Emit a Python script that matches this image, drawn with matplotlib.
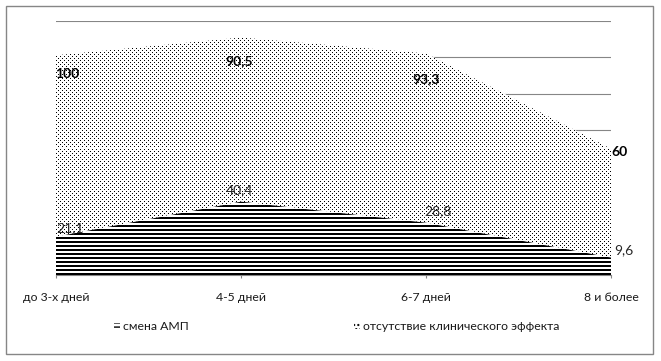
import matplotlib
matplotlib.use("Agg")
import matplotlib.pyplot as plt
from matplotlib.patches import Rectangle, Patch
import numpy as np

categories = ["до 3-х дней", "4-5 дней", "6-7 дней", "8 и более"]
smena_amp = [21.1, 40.4, 28.8, 9.6]
net_effekta = [100, 90.5, 93.3, 60]
series_names = ["смена АМП", "отсутствие клинического эффекта"]

plt.rcParams['font.family'] = ['Lato', 'DejaVu Sans']

W, H = 661, 361
AX_L, AX_B, AX_W, AX_H = 56, 86, 555, 254
fig = plt.figure(figsize=(W / 100, H / 100), dpi=100)
ax = fig.add_axes([AX_L / W, AX_B / H, AX_W / W, AX_H / H])

x = np.arange(len(categories))
s1 = np.array(smena_amp)
s2 = s1 + np.array(net_effekta)

grid_c = "#868686"
XMAX, YMAX = 3, 140

dots = ax.fill_between(x, s1, s2, facecolor="white", linewidth=0, zorder=2)
stripes = ax.fill_between(x, 0, s1, facecolor="white", linewidth=0, zorder=3)

# pixel textures clipped to the two area shapes
yy, xx = np.mgrid[0:AX_H, 0:AX_W]
dot_mask = (yy % 2 == 0) & ((xx % 4) == 2 * ((yy // 2) % 2))
stripe_mask = ((AX_H - 1 - yy) % 4) < 2

def texture(mask):
    img = np.ones((AX_H, AX_W, 4))
    img[mask, :3] = 0.0
    return img

for mask, coll, z in [(dot_mask, dots, 2.1), (stripe_mask, stripes, 3.1)]:
    im = ax.imshow(texture(mask), extent=(0, XMAX, 0, YMAX), aspect='auto',
                   interpolation='nearest', zorder=z, resample=False)
    im.set_clip_path(coll.get_paths()[0], transform=ax.transData)

ax.set_xlim(0, XMAX)
ax.set_ylim(0, YMAX)
ax.set_yticks(np.arange(20, YMAX + 1, 20))
ax.yaxis.grid(True, color=grid_c, linewidth=0.8, zorder=0)
ax.set_axisbelow(True)
ax.tick_params(axis='y', left=False, labelleft=False)
ax.set_xticks(x)
ax.set_xticklabels(categories, fontsize=8.8, color="#1a1a1a")
ax.tick_params(axis='x', direction='out', length=2.5, width=0.8, color=grid_c, pad=10)
for s in ['left', 'right', 'top']:
    ax.spines[s].set_visible(False)
ax.spines['bottom'].set_color(grid_c)
ax.spines['bottom'].set_linewidth(0.8)
ax.spines['bottom'].set_zorder(1)

def fmt(v):
    return f"{v:g}".replace('.', ',')

top_offsets = [(11.5, -19), (-2, -23.5), (0, -26), (8.5, -3.5)]
low_offsets = [(14, 8.7), (-2, 11.7), (11.5, 12), (13, 7.6)]
for i in range(len(categories)):
    ax.annotate(fmt(net_effekta[i]), xy=(x[i], s2[i]), xytext=top_offsets[i],
                textcoords='offset pixels', ha='center', va='center',
                fontsize=10, fontweight='bold', color='black', zorder=5,
                annotation_clip=False)
    ax.annotate(fmt(smena_amp[i]), xy=(x[i], s1[i]), xytext=low_offsets[i],
                textcoords='offset pixels', ha='center', va='center',
                fontsize=10, color='#262626', zorder=5,
                annotation_clip=False)

with plt.rc_context({'hatch.linewidth': 1.45}):
    h1 = Patch(facecolor='white', edgecolor='black', hatch='----', linewidth=0)
with plt.rc_context({'hatch.linewidth': 0.6}):
    h2 = Patch(facecolor='white', edgecolor='black', hatch='....', linewidth=0)
fig.legend([h1, h2], series_names, loc='center', ncol=2,
           bbox_to_anchor=(337 / W, 1 - 327 / H), frameon=False,
           fontsize=8.8, handlelength=0.45, handleheight=0.45,
           handletextpad=0.3, columnspacing=13.5, labelcolor='#1a1a1a')

fig.patches.append(Rectangle((5.5 / W, 7 / H), (653 - 5.5) / W, (355 - 7) / H,
                             transform=fig.transFigure, fill=False,
                             edgecolor=grid_c, linewidth=1.0))

fig.savefig("out.png", dpi=100)
